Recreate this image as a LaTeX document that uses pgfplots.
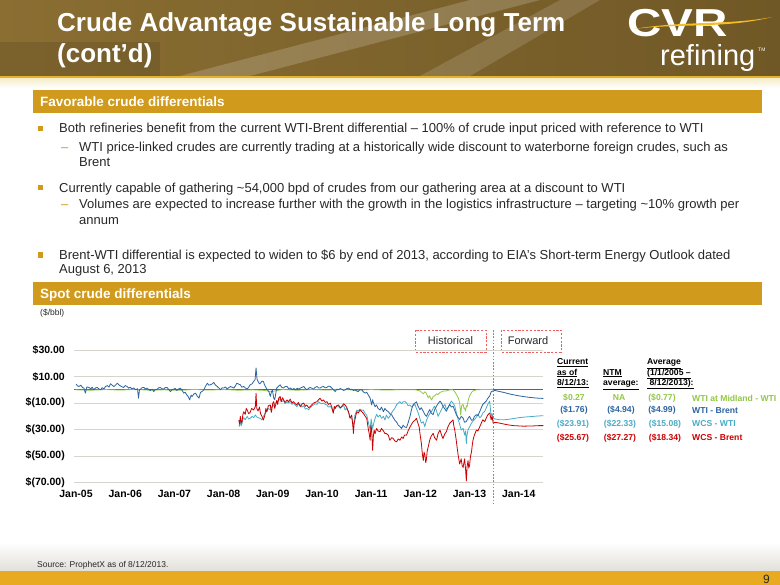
\documentclass[border=0pt]{standalone}
\usepackage{pgfplots}
\pgfplotsset{compat=1.18}
\usepackage{fontspec}
\setmainfont{Liberation Sans}
\newfontfamily\logofont[FakeStretch=1.22]{Liberation Sans}
\newcommand\fs[1]{\fontsize{#1bp}{#1bp}\selectfont}

\definecolor{gold}{RGB}{208,154,28}
\definecolor{footgold}{RGB}{232,170,32}
\definecolor{goldline}{RGB}{226,180,44}
\definecolor{cream}{RGB}{246,238,205}
\definecolor{footgray}{RGB}{226,224,218}
\definecolor{gridc}{RGB}{215,212,208}
\definecolor{wtib}{RGB}{44,100,160}
\definecolor{wcsw}{RGB}{75,172,198}
\definecolor{wcsb}{RGB}{204,0,0}
\definecolor{mid}{RGB}{146,200,70}
\definecolor{txt}{RGB}{40,40,40}
\definecolor{boxred}{RGB}{240,95,95}
\definecolor{banA}{RGB}{138,110,50}
\definecolor{banB}{RGB}{208,184,120}
\definecolor{banC}{RGB}{112,88,38}
\definecolor{swoosh}{RGB}{246,190,30}

\begin{document}
\begin{tikzpicture}[x=1bp,y=-1bp]
\useasboundingbox (0,0) rectangle (780,585);
\fill[white] (0,0) rectangle (780,585);

% banner
\shade[left color=banA, middle color=banB, right color=banC] (0,0) rectangle (780,76);
\fill[white,opacity=0.18] (180,76) -- (470,0) -- (540,0) -- (250,76) -- cycle;
\fill[white,opacity=0.14] (420,76) -- (560,0) -- (600,0) -- (470,76) -- cycle;
\fill[black,opacity=0.10] (0,42) rectangle (160,76);
\fill[goldline] (0,76) rectangle (780,79);
\shade[top color=cream, bottom color=white] (0,79) rectangle (780,88);
\node[anchor=base west, inner sep=0, text=white, font=\bfseries\fs{26}] at (57,32) {Crude Advantage Sustainable Long Term};
\node[anchor=base west, inner sep=0, text=white, font=\bfseries\fs{26}] at (57,63) {(cont’d)};
% logo
\node[anchor=base west, inner sep=0, text=white, font=\logofont\bfseries\fs{39}] at (627,37) {CVR};
\fill[swoosh] (634,29) .. controls (680,23) and (725,29) .. (772,17)
   .. controls (728,25.5) and (684,20.5) .. (634,29) -- cycle;
\node[anchor=base west, inner sep=0, text=white, font=\fs{29}] at (660,66) {refining};
\node[anchor=base west, inner sep=0, text=white, font=\fs{5}] at (758,52) {TM};

% section bars
\fill[gold] (33,90) rectangle (762,113);
\node[anchor=base west, inner sep=0, text=white, font=\bfseries\fs{13.5}] at (40,106.5) {Favorable crude differentials};
\fill[gold] (33,282) rectangle (762,305);
\node[anchor=base west, inner sep=0, text=white, font=\bfseries\fs{13.5}] at (40,298) {Spot crude differentials};

% bullets
\foreach \y in {128.5,187.7,255} {\fill[gold] (37.5,\y-2.7) rectangle (43,\y+2.7);}
\foreach \y in {147.3,204.3} {\node[anchor=base west, inner sep=0, text=gold, font=\fs{13}] at (61,\y+4.5) {–};}
\begin{scope}[every node/.style={anchor=base west, inner sep=0, text=txt, font=\fs{13}}]
\node at (59,133) {Both refineries benefit from the current WTI-Brent differential – 100\% of crude input priced with reference to WTI};
\node at (79,151.7) {WTI price-linked crudes are currently trading at a historically wide discount to waterborne foreign crudes, such as};
\node at (79,166.7) {Brent};
\node at (59,192.2) {Currently capable of gathering \textasciitilde54,000 bpd of crudes from our gathering area at a discount to WTI};
\node at (79,208.7) {Volumes are expected to increase further with the growth in the logistics infrastructure – targeting \textasciitilde10\% growth per};
\node at (79,224.2) {annum};
\node at (59,259.3) {Brent-WTI differential is expected to widen to \$6 by end of 2013, according to EIA’s Short-term Energy Outlook dated};
\node at (59,273.3) {August 6, 2013};
\end{scope}
\node[anchor=base west, inner sep=0, text=txt, font=\fs{8.5}] at (40,315) {(\$/bbl)};

% historical / forward markers
\draw[boxred, line width=0.9bp, dash pattern=on 2.2bp off 1.6bp] (415,330) rectangle (486,352);
\draw[boxred, line width=0.9bp, dash pattern=on 2.2bp off 1.6bp] (501,330) rectangle (561,352);
\node[text=txt, font=\fs{11}, inner sep=0] at (450.5,341) {Historical};
\node[text=txt, font=\fs{11}, inner sep=0] at (528,341) {Forward};
\draw[boxred, line width=0.8bp, dash pattern=on 1.6bp off 1.6bp] (493.3,330) -- (493.3,505);

% chart
\begin{scope}[x=1cm,y=1cm]
\begin{axis}[
  at={(74.3bp,-482.7bp)}, anchor=south west,
  width=469bp, height=132.7bp, scale only axis,
  xmin=2004.965, xmax=2014.5, ymin=-70, ymax=30,
  axis line style={draw=none},
  major tick length=0pt,
  xtick={2005,2006,2007,2008,2009,2010,2011,2012,2013,2014},
  xticklabels={Jan-05,Jan-06,Jan-07,Jan-08,Jan-09,Jan-10,Jan-11,Jan-12,Jan-13,Jan-14},
  ytick={-70,-50,-30,-10,10,30},
  yticklabels={\$(70.00),\$(50.00),\$(30.00),\$(10.00),\$10.00,\$30.00},
  ymajorgrids,
  grid style={draw=gridc, line width=0.9bp},
  extra y ticks={0}, extra y tick labels={},
  extra y tick style={grid style={draw=black!62, line width=0.9bp}},
  ticklabel style={font=\bfseries\fs{10.5}, text=black},
  xticklabel style={yshift=-4bp},
  yticklabel style={xshift=-6bp},
  clip=false,
  every axis plot/.append style={line width=0.8bp, line join=round, no markers},
]
% WTI at Midland - WTI
\addplot[mid] coordinates {
(2004.99,0) (2005.3,-0.3) (2005.6,0.2) (2005.9,-0.2) (2006.2,0.3) (2006.5,-0.3) (2006.8,0) (2007.1,-0.4)
(2007.4,0.3) (2007.7,-0.2) (2008.0,0.2) (2008.3,-0.3) (2008.6,0) (2008.85,-0.5) (2008.95,-1.5) (2009.05,-0.8)
(2009.2,0.2) (2009.5,-0.3) (2009.8,0.2) (2010.1,-0.2) (2010.4,0.3) (2010.7,-0.3) (2011.0,0.2) (2011.3,-0.2)
(2011.6,0.1) (2011.9,0) (2011.99,-0.8) (2012.03,-2.0) (2012.06,-3.0) (2012.09,-1.5) (2012.12,-2.5) (2012.16,-6.0)
(2012.19,-4.5) (2012.21,-6.5) (2012.23,-7.7) (2012.26,-5.0) (2012.29,-4.6) (2012.33,-3.0) (2012.36,-3.5) (2012.40,-2.0)
(2012.46,-1.0) (2012.53,-0.8) (2012.60,0) (2012.665,0) (2012.70,-1.5) (2012.73,-3.3) (2012.77,-6.0) (2012.80,-9.7)
(2012.81,-14.0) (2012.82,-19.0) (2012.84,-12.0) (2012.87,-11.0) (2012.89,-14.5) (2012.90,-13.6) (2012.92,-16.0) (2012.935,-12.0)
(2012.95,-13.0) (2012.97,-8.5) (2013.00,-4.6) (2013.04,-2.0) (2013.07,-0.8) (2013.14,0) (2013.30,0.3) (2013.48,0.3)
};
% WCS - WTI
\addplot[wcsw] coordinates {
(2008.31,-26.6) (2008.325,-27.5) (2008.34,-23.0) (2008.36,-27.0) (2008.375,-25.5) (2008.39,-22.0) (2008.41,-21.0) (2008.44,-22.5)
(2008.48,-20.0) (2008.51,-22.0) (2008.54,-21.5) (2008.58,-20.0) (2008.61,-21.0) (2008.646,-19.0) (2008.675,-20.5) (2008.70,-21.0)
(2008.75,-21.5) (2008.78,-22.8) (2008.81,-20.0) (2008.84,-18.0) (2008.88,-16.0) (2008.91,-14.0) (2008.95,-15.0) (2008.98,-12.7)
(2009.02,-12.0) (2009.05,-10.5) (2009.08,-9.0) (2009.12,-8.0) (2009.15,-6.3) (2009.18,-9.0) (2009.22,-8.0) (2009.25,-10.5)
(2009.29,-9.0) (2009.32,-10.0) (2009.355,-8.5) (2009.39,-11.0) (2009.42,-10.0) (2009.456,-11.4) (2009.49,-12.7) (2009.52,-11.0)
(2009.56,-11.4) (2009.60,-13.0) (2009.63,-12.0) (2009.66,-14.5) (2009.69,-14.0) (2009.73,-15.0) (2009.76,-13.5) (2009.80,-12.0)
(2009.83,-11.4) (2009.86,-10.5) (2009.90,-11.0) (2009.93,-9.0) (2009.96,-10.0) (2010.00,-10.5) (2010.03,-10.0) (2010.07,-11.0)
(2010.10,-11.4) (2010.13,-13.0) (2010.17,-12.5) (2010.20,-14.0) (2010.23,-16.5) (2010.27,-13.0) (2010.30,-12.0) (2010.34,-12.7)
(2010.37,-14.0) (2010.40,-13.0) (2010.44,-11.5) (2010.47,-15.2) (2010.50,-14.0) (2010.54,-17.0) (2010.57,-20.0) (2010.61,-22.0)
(2010.64,-27.8) (2010.67,-19.0) (2010.71,-15.2) (2010.74,-16.0) (2010.77,-14.5) (2010.81,-15.5) (2010.84,-15.2) (2010.88,-18.0)
(2010.91,-19.0) (2010.94,-24.0) (2010.96,-27.0) (2010.98,-30.4) (2011.00,-22.0) (2011.03,-29.1) (2011.06,-24.0) (2011.08,-21.5)
(2011.11,-18.5) (2011.14,-20.5) (2011.18,-19.0) (2011.21,-21.5) (2011.25,-20.0) (2011.28,-22.8) (2011.31,-19.0) (2011.35,-21.5)
(2011.38,-20.0) (2011.42,-17.0) (2011.45,-15.5) (2011.48,-14.0) (2011.52,-11.0) (2011.55,-10.0) (2011.585,-8.9) (2011.62,-10.5)
(2011.65,-9.0) (2011.69,-8.9) (2011.72,-10.0) (2011.75,-12.0) (2011.79,-11.4) (2011.82,-13.0) (2011.855,-12.0) (2011.89,-11.0)
(2011.92,-14.0) (2011.956,-17.4) (2011.99,-21.5) (2012.02,-25.1) (2012.06,-24.0) (2012.09,-27.7) (2012.125,-23.0) (2012.16,-20.0)
(2012.19,-18.0) (2012.23,-16.2) (2012.26,-14.0) (2012.29,-12.3) (2012.33,-16.0) (2012.36,-20.0) (2012.40,-17.0) (2012.43,-14.9)
(2012.46,-12.5) (2012.50,-11.0) (2012.53,-14.5) (2012.56,-13.6) (2012.60,-10.5) (2012.63,-8.5) (2012.665,-10.0) (2012.70,-12.3)
(2012.73,-17.0) (2012.77,-22.6) (2012.80,-26.0) (2012.83,-30.3) (2012.87,-29.0) (2012.90,-34.1) (2012.92,-31.0) (2012.935,-40.5)
(2012.95,-34.0) (2012.97,-30.3) (2013.00,-28.0) (2013.04,-25.1) (2013.07,-23.5) (2013.10,-22.6) (2013.14,-20.5) (2013.17,-18.7)
(2013.21,-21.0) (2013.24,-20.0) (2013.27,-17.5) (2013.31,-16.2) (2013.34,-13.5) (2013.37,-11.0) (2013.41,-8.5) (2013.44,-20.0)
(2013.46,-18.0) (2013.48,-21.3) (2013.52,-22.0) (2013.60,-22.5) (2013.70,-22.6) (2013.80,-22.2) (2013.90,-21.6) (2014.00,-21.0)
(2014.10,-20.6) (2014.20,-20.3) (2014.30,-20.0) (2014.40,-19.7) (2014.50,-19.5)
};
% WTI - Brent
\addplot[wtib] coordinates {
(2005.00,4.3) (2005.03,3.0) (2005.06,2.5) (2005.10,3.5) (2005.13,1.8) (2005.16,1.3) (2005.19,-2.5) (2005.22,2.2)
(2005.26,1.8) (2005.30,0.8) (2005.33,2.0) (2005.36,0.0) (2005.40,1.5) (2005.43,1.8) (2005.47,0.6) (2005.50,0.0)
(2005.53,1.6) (2005.57,0.8) (2005.60,2.5) (2005.64,3.2) (2005.67,2.0) (2005.70,4.6) (2005.73,3.6) (2005.77,2.5)
(2005.80,3.4) (2005.84,5.0) (2005.87,3.8) (2005.90,3.0) (2005.94,2.2) (2005.97,1.8) (2006.00,3.2) (2006.04,2.5)
(2006.07,1.2) (2006.10,2.0) (2006.14,0.5) (2006.17,1.5) (2006.21,0.0) (2006.25,0.8) (2006.27,-6.3) (2006.29,0.0)
(2006.31,0.5) (2006.34,1.6) (2006.38,1.8) (2006.41,0.6) (2006.44,1.3) (2006.48,0.2) (2006.51,-0.5) (2006.55,0.5)
(2006.58,-1.3) (2006.61,0.0) (2006.65,0.5) (2006.68,1.5) (2006.71,1.8) (2006.75,0.8) (2006.78,0.5) (2006.81,1.6)
(2006.85,1.8) (2006.88,0.4) (2006.92,-1.3) (2006.95,0.0) (2006.98,0.5) (2007.02,1.0) (2007.05,-0.5) (2007.08,0.6)
(2007.12,1.3) (2007.15,0.0) (2007.19,-2.5) (2007.22,-1.8) (2007.25,-3.8) (2007.28,-5.0) (2007.31,-7.6) (2007.34,-4.0)
(2007.36,-5.0) (2007.40,-3.0) (2007.43,-2.5) (2007.46,-4.5) (2007.50,-6.3) (2007.53,-2.0) (2007.57,-1.0) (2007.60,0.0)
(2007.63,2.5) (2007.67,5.0) (2007.70,3.5) (2007.73,3.8) (2007.77,4.5) (2007.80,5.6) (2007.83,3.8) (2007.87,2.5)
(2007.90,1.5) (2007.94,0.0) (2007.97,1.5) (2008.00,1.3) (2008.04,2.2) (2008.07,0.5) (2008.10,1.5) (2008.14,2.5)
(2008.17,2.0) (2008.21,1.3) (2008.24,3.0) (2008.27,5.0) (2008.31,4.2) (2008.34,3.8) (2008.37,2.0) (2008.41,2.5)
(2008.44,1.5) (2008.48,0.5) (2008.51,2.0) (2008.54,3.8) (2008.58,4.5) (2008.61,6.3) (2008.64,7.6) (2008.66,16.5)
(2008.68,8.0) (2008.70,6.3) (2008.73,4.5) (2008.75,5.0) (2008.78,6.5) (2008.81,6.3) (2008.83,4.0) (2008.85,2.5)
(2008.88,0.5) (2008.92,-1.3) (2008.95,-5.0) (2008.97,-2.0) (2008.99,0.0) (2009.01,-4.0) (2009.02,-6.3) (2009.04,-7.5)
(2009.06,-3.0) (2009.08,1.3) (2009.11,2.5) (2009.15,3.8) (2009.18,2.0) (2009.22,1.3) (2009.25,2.5) (2009.29,2.5)
(2009.32,1.0) (2009.36,1.3) (2009.40,0.2) (2009.43,1.0) (2009.46,0.0) (2009.50,1.2) (2009.53,0.5) (2009.56,1.3)
(2009.60,2.0) (2009.63,2.5) (2009.66,1.0) (2009.69,0.0) (2009.73,1.2) (2009.76,1.8) (2009.80,1.0) (2009.83,0.5)
(2009.86,1.8) (2009.90,2.5) (2009.93,1.5) (2009.96,1.3) (2010.00,2.2) (2010.03,2.5) (2010.07,1.5) (2010.10,1.8)
(2010.13,2.8) (2010.17,2.5) (2010.20,1.3) (2010.23,0.2) (2010.27,-1.3) (2010.30,0.5) (2010.34,0.0) (2010.37,1.0)
(2010.40,0.5) (2010.44,-0.5) (2010.47,0.0) (2010.50,0.8) (2010.54,1.3) (2010.57,0.2) (2010.61,0.5) (2010.64,-0.5)
(2010.67,0.0) (2010.71,-1.0) (2010.74,-1.3) (2010.77,0.2) (2010.81,0.0) (2010.84,-1.5) (2010.88,-2.5) (2010.91,-1.8)
(2010.94,-3.8) (2010.96,-5.0) (2010.98,-6.3) (2011.01,-11.4) (2011.03,-7.5) (2011.04,-8.9) (2011.06,-11.0) (2011.08,-12.7)
(2011.11,-11.4) (2011.14,-14.0) (2011.18,-15.2) (2011.21,-13.0) (2011.25,-16.5) (2011.28,-14.0) (2011.31,-15.5) (2011.35,-16.5)
(2011.38,-18.0) (2011.42,-19.0) (2011.45,-21.0) (2011.48,-22.8) (2011.52,-24.5) (2011.55,-26.6) (2011.58,-27.5) (2011.62,-29.1)
(2011.65,-26.6) (2011.68,-28.0) (2011.72,-28.4) (2011.75,-25.0) (2011.79,-20.0) (2011.82,-15.0) (2011.855,-11.0) (2011.89,-10.0)
(2011.92,-9.0) (2011.95,-12.0) (2011.99,-15.0) (2012.02,-13.5) (2012.06,-16.2) (2012.09,-18.5) (2012.125,-20.0) (2012.16,-17.0)
(2012.19,-14.9) (2012.22,-17.5) (2012.26,-18.7) (2012.29,-15.0) (2012.33,-12.3) (2012.36,-10.5) (2012.40,-8.5) (2012.43,-10.0)
(2012.46,-12.3) (2012.50,-14.5) (2012.53,-16.2) (2012.56,-13.5) (2012.60,-11.0) (2012.63,-13.0) (2012.665,-12.3) (2012.70,-15.5)
(2012.73,-18.7) (2012.77,-21.0) (2012.80,-22.3) (2012.83,-20.0) (2012.87,-21.3) (2012.90,-24.5) (2012.935,-23.8) (2012.97,-21.5)
(2013.00,-20.0) (2013.04,-23.0) (2013.07,-22.6) (2013.10,-20.0) (2013.14,-18.7) (2013.17,-19.5) (2013.21,-16.2) (2013.24,-13.5)
(2013.27,-11.0) (2013.31,-9.5) (2013.34,-8.5) (2013.37,-6.5) (2013.41,-4.6) (2013.44,-1.5) (2013.48,-0.8) (2013.52,-0.5)
(2013.60,-1.2) (2013.70,-2.0) (2013.80,-3.0) (2013.90,-3.8) (2014.00,-4.5) (2014.10,-5.1) (2014.20,-5.6) (2014.30,-6.0)
(2014.40,-6.3) (2014.50,-6.5)
};
% WCS - Brent
\addplot[wcsb] coordinates {
(2008.31,-22.8) (2008.325,-26.0) (2008.34,-20.0) (2008.36,-25.0) (2008.375,-24.0) (2008.39,-19.0) (2008.41,-16.5) (2008.44,-18.5)
(2008.46,-14.0) (2008.48,-15.2) (2008.51,-18.0) (2008.54,-17.0) (2008.57,-14.0) (2008.61,-15.2) (2008.646,-12.7) (2008.66,-2.5)
(2008.675,-14.0) (2008.70,-16.0) (2008.73,-13.0) (2008.75,-17.7) (2008.78,-20.0) (2008.81,-22.8) (2008.84,-19.0) (2008.86,-14.0)
(2008.88,-16.5) (2008.91,-12.0) (2008.95,-11.4) (2008.97,-17.0) (2008.98,-15.2) (2009.00,-10.0) (2009.02,-8.9) (2009.04,-14.0)
(2009.05,-12.7) (2009.08,-8.0) (2009.10,-11.0) (2009.12,-6.3) (2009.15,-5.0) (2009.17,-9.0) (2009.20,-6.0) (2009.22,-7.6)
(2009.25,-9.5) (2009.29,-7.6) (2009.32,-9.0) (2009.355,-7.0) (2009.39,-10.0) (2009.42,-8.9) (2009.46,-10.5) (2009.49,-11.4)
(2009.52,-9.5) (2009.56,-12.7) (2009.60,-10.5) (2009.63,-10.0) (2009.66,-12.5) (2009.69,-11.4) (2009.73,-13.5) (2009.76,-12.7)
(2009.80,-11.0) (2009.83,-10.0) (2009.86,-9.5) (2009.90,-8.9) (2009.93,-7.5) (2009.96,-6.3) (2010.00,-8.5) (2010.03,-7.6)
(2010.07,-9.5) (2010.10,-8.9) (2010.13,-11.0) (2010.17,-10.0) (2010.20,-13.0) (2010.23,-17.7) (2010.25,-12.5) (2010.27,-14.0)
(2010.30,-12.0) (2010.335,-11.4) (2010.37,-13.5) (2010.40,-12.7) (2010.44,-10.5) (2010.47,-11.4) (2010.50,-13.0) (2010.54,-16.5)
(2010.57,-21.5) (2010.605,-19.0) (2010.625,-26.0) (2010.64,-32.9) (2010.655,-25.0) (2010.67,-22.8) (2010.69,-19.0) (2010.71,-16.5)
(2010.74,-17.5) (2010.77,-15.2) (2010.81,-16.5) (2010.84,-17.7) (2010.88,-20.0) (2010.91,-21.5) (2010.94,-29.1) (2010.96,-33.0)
(2010.98,-38.0) (2010.997,-26.6) (2011.01,-30.0) (2011.03,-45.6) (2011.045,-35.0) (2011.06,-30.4) (2011.08,-33.0) (2011.11,-29.1)
(2011.14,-31.0) (2011.18,-31.6) (2011.21,-29.1) (2011.25,-31.0) (2011.28,-32.9) (2011.31,-33.0) (2011.35,-34.2) (2011.38,-38.0)
(2011.42,-36.0) (2011.45,-36.7) (2011.48,-38.5) (2011.52,-39.2) (2011.55,-37.0) (2011.585,-38.0) (2011.62,-35.5) (2011.65,-36.7)
(2011.68,-34.0) (2011.72,-34.2) (2011.75,-31.0) (2011.79,-28.0) (2011.82,-26.0) (2011.855,-24.0) (2011.89,-23.0) (2011.92,-21.5)
(2011.95,-25.0) (2011.976,-28.0) (2012.00,-35.0) (2012.02,-40.0) (2012.04,-48.0) (2012.06,-53.3) (2012.075,-47.0) (2012.09,-48.2)
(2012.11,-55.0) (2012.125,-52.0) (2012.14,-46.0) (2012.16,-43.0) (2012.19,-38.0) (2012.22,-35.0) (2012.26,-32.8) (2012.29,-36.0)
(2012.33,-38.0) (2012.36,-33.0) (2012.40,-30.3) (2012.43,-34.0) (2012.46,-36.7) (2012.50,-33.0) (2012.53,-31.5) (2012.56,-28.0)
(2012.60,-25.1) (2012.63,-24.0) (2012.665,-22.6) (2012.68,-27.0) (2012.70,-30.3) (2012.73,-38.0) (2012.75,-44.0) (2012.77,-49.5)
(2012.79,-54.0) (2012.80,-55.9) (2012.83,-52.0) (2012.85,-57.0) (2012.87,-58.5) (2012.89,-54.0) (2012.90,-52.0) (2012.92,-60.0)
(2012.935,-68.7) (2012.95,-58.0) (2012.97,-53.3) (2012.985,-59.0) (2013.00,-57.2) (2013.02,-50.0) (2013.04,-46.9) (2013.055,-42.0)
(2013.07,-38.0) (2013.10,-34.0) (2013.14,-30.3) (2013.17,-31.0) (2013.21,-27.7) (2013.24,-25.0) (2013.27,-22.6) (2013.31,-24.0)
(2013.34,-21.3) (2013.37,-19.0) (2013.41,-17.4) (2013.44,-22.6) (2013.46,-20.0) (2013.48,-25.1) (2013.52,-24.5) (2013.60,-25.0)
(2013.70,-25.8) (2013.80,-26.5) (2013.90,-27.0) (2014.00,-27.2) (2014.10,-27.4) (2014.20,-27.3) (2014.30,-27.2) (2014.40,-27.0)
(2014.50,-27.0)
};
\end{axis}
\end{scope}

% legend table
\begin{scope}[every node/.style={inner sep=0, font=\bfseries\fs{8.6}}]
\node[anchor=base west] at (557,364.5) {\underline{Current}};
\node[anchor=base west] at (557,375) {\underline{as of}};
\node[anchor=base west] at (557,385.5) {\underline{8/12/13:}};
\node[anchor=base west] at (603,375) {\underline{NTM}};
\node[anchor=base west] at (603,385.5) {\underline{average:}};
\node[anchor=base west] at (647,364.5) {\underline{Average}};
\node[anchor=base west] at (647,375) {\underline{(1/1/2005 –}};
\node[anchor=base west] at (647,385.5) {\underline{\ 8/12/2013):}};
\node[anchor=base, text=mid] at (574,400.5) {\$0.27};
\node[anchor=base, text=mid] at (619,400.5) {NA};
\node[anchor=base, text=mid] at (662,400.5) {(\$0.77)};
\node[anchor=base west, text=mid] at (692,401) {WTI at Midland - WTI};
\node[anchor=base, text=wtib] at (574,412.5) {(\$1.76)};
\node[anchor=base, text=wtib] at (621,412.5) {(\$4.94)};
\node[anchor=base, text=wtib] at (662,412.5) {(\$4.99)};
\node[anchor=base west, text=wtib] at (692,413) {WTI - Brent};
\node[anchor=base, text=wcsw] at (573,426) {(\$23.91)};
\node[anchor=base, text=wcsw] at (620,426) {(\$22.33)};
\node[anchor=base, text=wcsw] at (665,426) {(\$15.08)};
\node[anchor=base west, text=wcsw] at (692,426.5) {WCS - WTI};
\node[anchor=base, text=wcsb] at (573,440) {(\$25.67)};
\node[anchor=base, text=wcsb] at (620,440) {(\$27.27)};
\node[anchor=base, text=wcsb] at (665,440) {(\$18.34)};
\node[anchor=base west, text=wcsb] at (692,440.5) {WCS - Brent};
\end{scope}

% footer
\shade[top color=white, bottom color=footgray] (0,542) rectangle (780,571);
\fill[footgold] (0,571) rectangle (780,585);
\node[anchor=base west, inner sep=0, text=txt, font=\fs{8.5}] at (37,567) {Source: ProphetX as of 8/12/2013\textcolor{wcsb}{.}};
\node[anchor=base east, inner sep=0, text=txt, font=\fs{12}] at (770,583) {9};
\end{tikzpicture}
\end{document}
